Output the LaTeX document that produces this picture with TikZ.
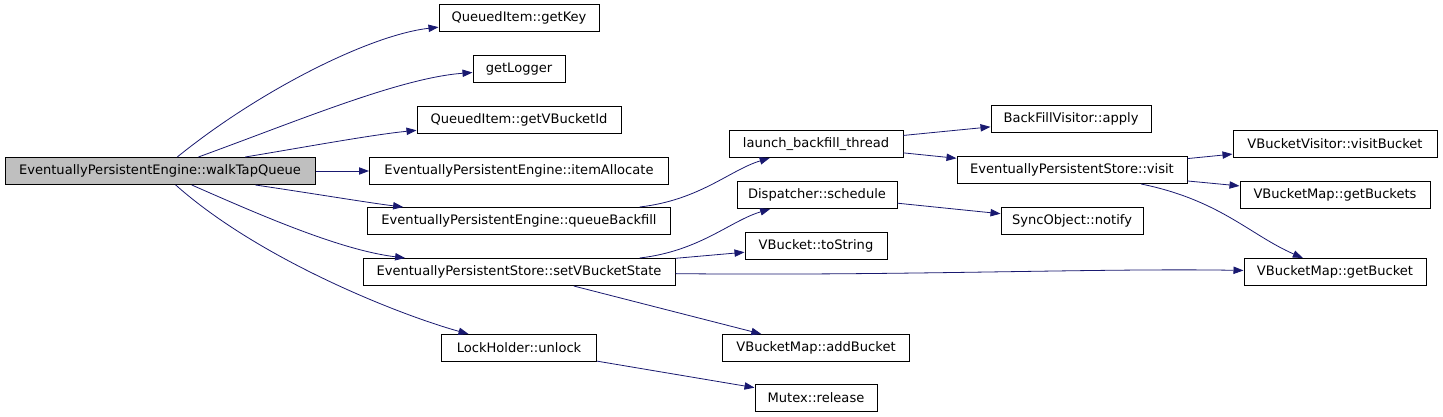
\documentclass[tikz,border=0pt]{standalone}
\usepackage{fontspec}
\setmainfont{DejaVu Sans}
\usetikzlibrary{arrows.meta}
\definecolor{edgeblue}{HTML}{191970}
\begin{document}
\begin{tikzpicture}
    [x=0.75pt, y=-0.75pt,
    fn/.style={draw=black, line width=0.75pt, inner sep=0pt,
      minimum height=27*0.75pt, font=\fontsize{9.8}{12}\selectfont},
    root/.style={fn, fill=black!25},
    wd/.style={minimum width=#1*0.75pt},
    call/.style={draw=edgeblue, line width=0.6pt,
      -{Triangle[length=7.5pt,width=5.5pt]}}]
  \fill[white] (0,0) rectangle (1443,417);
  \useasboundingbox (0,0) rectangle (1443,417);
  % callers on the left
  \node[root, wd=310] (walk) at (160,171) {EventuallyPersistentEngine::walkTapQueue};
  \node[fn, wd=160] (getKey) at (519,18) {QueuedItem::getKey};
  \node[fn, wd=92] (getLogger) at (519,69) {getLogger};
  \node[fn, wd=204] (getVBucketId) at (519,120) {QueuedItem::getVBucketId};
  \node[fn, wd=299] (itemAllocate) at (519,171) {EventuallyPersistentEngine::itemAllocate};
  \node[fn, wd=303] (queueBackfill) at (519,221) {EventuallyPersistentEngine::queueBackfill};
  \node[fn, wd=312] (setState) at (519,272) {EventuallyPersistentStore::setVBucketState};
  \node[fn, wd=155] (unlock) at (519,348) {LockHolder::unlock};
  % second column
  \node[fn, wd=174] (launch) at (816,144) {launch\_backfill\_thread};
  \node[fn, wd=160] (schedule) at (817,195) {Dispatcher::schedule};
  \node[fn, wd=142] (toString) at (816,246) {VBucket::toString};
  \node[fn, wd=187] (addBucket) at (816,348) {VBucketMap::addBucket};
  \node[fn, wd=122] (release) at (816,398) {Mutex::release};
  % third column
  \node[fn, wd=160] (apply) at (1071,119) {BackFillVisitor::apply};
  \node[fn, wd=230] (visit) at (1072,170) {EventuallyPersistentStore::visit};
  \node[fn, wd=142] (notify) at (1072,221) {SyncObject::notify};
  % last column
  \node[fn, wd=204] (visitBucket) at (1335,144) {VBucketVisitor::visitBucket};
  \node[fn, wd=190] (getBuckets) at (1335,195) {VBucketMap::getBuckets};
  \node[fn, wd=182] (getBucket) at (1335,272) {VBucketMap::getBucket};
  % calls
  \draw[call] (walk) .. controls (260,90) and (370,35) .. (getKey);
  \draw[call] (walk) .. controls (300,120) and (400,78) .. (getLogger);
  \draw[call] (walk) .. controls (300,148) and (370,135) .. (getVBucketId);
  \draw[call] (walk) -- (itemAllocate);
  \draw[call] (walk) .. controls (310,193) and (370,203) .. (queueBackfill);
  \draw[call] (walk) .. controls (260,215) and (340,250) .. (setState);
  \draw[call] (walk) .. controls (260,260) and (400,315) .. (unlock);
  \draw[call] (queueBackfill) .. controls (700,200) and (730,170) .. (launch);
  \draw[call] (launch) -- (apply);
  \draw[call] (launch) -- (visit);
  \draw[call] (visit) -- (visitBucket);
  \draw[call] (visit) -- (getBuckets);
  \draw[call] (visit) .. controls (1220,200) and (1250,235) .. (getBucket);
  \draw[call] (setState) .. controls (700,251) and (730,221) .. (schedule);
  \draw[call] (setState) -- (toString);
  \draw[call] (setState) .. controls (900,276) and (1100,268) .. (getBucket);
  \draw[call] (setState) -- (addBucket);
  \draw[call] (schedule) -- (notify);
  \draw[call] (unlock) -- (release);
\end{tikzpicture}
\end{document}
